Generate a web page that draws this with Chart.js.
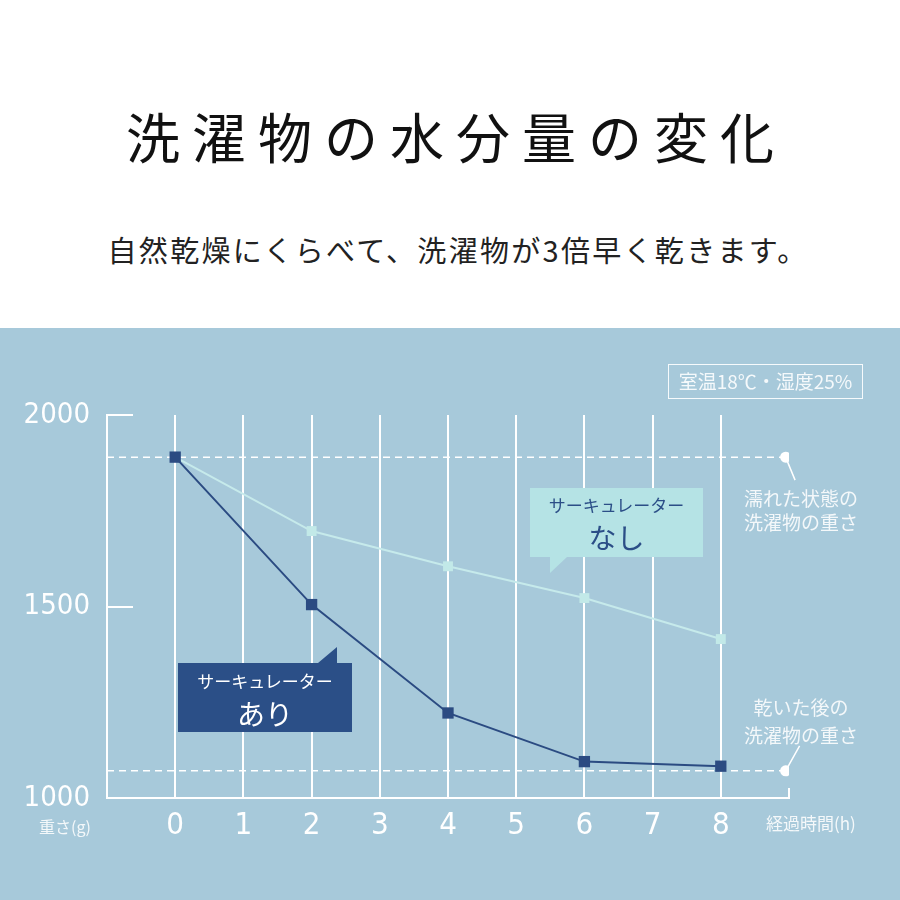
<!DOCTYPE html>
<html lang="ja">
<head>
<meta charset="utf-8">
<script src="https://cdn.jsdelivr.net/npm/chart.js@4/dist/chart.umd.min.js"></script>
<style>
  html, body { margin: 0; padding: 0; background: #fff; }
  #page { position: relative; width: 900px; height: 900px; overflow: hidden; background: #fff;
          font-family: "Noto Sans CJK JP", "Noto Sans", sans-serif; }
  #title { position: absolute; left: 0; top: 109px; width: 900px; text-align: center;
           font-size: 54px; line-height: 54px; letter-spacing: 12px; padding-left: 12px; box-sizing: border-box;
           color: #111; font-weight: 400; white-space: nowrap; }
  #subtitle { position: absolute; left: 0; top: 235px; width: 900px; text-align: center;
              font-size: 29px; line-height: 29px; letter-spacing: 2.3px; padding-left: 16px; box-sizing: border-box;
              color: #222; white-space: nowrap; }
  #panel { position: absolute; left: 0; top: 328px; width: 900px; height: 572px; background: #a7c9da; }
  #c { position: absolute; left: 0; top: 0; }
  .cond { position: absolute; left: 668px; top: 36px; width: 195px; height: 35px; box-sizing: border-box;
          border: 1.5px solid rgba(255,255,255,0.9); color: #f5f9fb; font-size: 19px; line-height: 32px;
          text-align: center; white-space: nowrap; }
  .callout { position: absolute; text-align: center; white-space: nowrap; }
  .callout .s { position: absolute; left: 0; width: 100%; font-size: 17px; line-height: 20px; }
  .callout .b { position: absolute; left: 0; width: 100%; font-size: 28px; line-height: 32px; }
  #nashi { left: 530px; top: 160px; width: 173px; height: 69px; background: #b5e3e5; color: #2b4e87; }
  #nashi .s { top: 7px; }
  #nashi .b { top: 33px; }
  #nashi::after { content: ""; position: absolute; left: 20px; top: 69px; width: 0; height: 0;
                  border-top: 16px solid #b5e3e5; border-right: 17px solid transparent; }
  #ari { left: 178px; top: 335px; width: 174px; height: 69px; background: #2b4f87; color: #fff; }
  #ari .s { top: 8px; }
  #ari .b { top: 34px; }
  #ari::after { content: ""; position: absolute; left: 140px; top: -16px; width: 0; height: 0;
                border-bottom: 16px solid #2b4f87; border-left: 19px solid transparent; }
  .note { position: absolute; left: 741px; width: 120px; text-align: center; color: #f4f8fa;
          font-size: 19px; white-space: nowrap; }
  .note div { height: 0; position: relative; }
  .note span { position: absolute; left: 0; width: 120px; line-height: 24px; transform: translateY(-12px); }
  .axisname { position: absolute; color: #f4f8fa; white-space: nowrap; }
</style>
</head>
<body>
<div id="page">
  <div id="title">洗濯物の水分量の変化</div>
  <div id="subtitle">自然乾燥にくらべて、洗濯物が3倍早く乾きます。</div>
  <div id="panel">
    <canvas id="c" width="900" height="572"></canvas>
    <div class="cond">室温18℃・湿度25%</div>
    <div class="callout" id="nashi"><div class="s">サーキュレーター</div><div class="b">なし</div></div>
    <div class="callout" id="ari"><div class="s">サーキュレーター</div><div class="b">あり</div></div>
    <div class="note" style="top:170px"><div><span>濡れた状態の</span></div><div style="top:23.5px"><span>洗濯物の重さ</span></div></div>
    <div class="note" style="top:379px"><div><span>乾いた後の</span></div><div style="top:27.5px"><span>洗濯物の重さ</span></div></div>
    <div class="axisname" style="left:39px; top:487px; font-size:16px; line-height:22px;">重さ(g)</div>
    <div class="axisname" style="left:766px; top:483px; font-size:17px; line-height:24px;">経過時間(h)</div>
  </div>
</div>
<script>
// ---- data ----
const hours = [0, 2, 4, 6, 8];
const withCirculator = [1890, 1505, 1222, 1095, 1083];      // サーキュレーターあり
const withoutCirculator = [1890, 1697, 1605, 1522, 1415];   // サーキュレーターなし
const wetWeight = 1890;   // 濡れた状態の洗濯物の重さ
const dryWeight = 1071;   // 乾いた後の洗濯物の重さ
const xTickLabels = ['0', '1', '2', '3', '4', '5', '6', '7', '8'];
const yTickLabels = ['1000', '1500', '2000'];

// ---- styles ----
const DARK = '#2b4b82';
const LIGHT_LINE = '#c6eaeb';
const LIGHT_PT = '#c2e9e8';
const NARROW = '"Noto Sans ExtraCondensed", "Noto Sans Condensed", "Liberation Sans Narrow", "DejaVu Sans Condensed", "Roboto Condensed", "Noto Sans", sans-serif';
const NARROW_WEIGHT = '300 extra-condensed';
const REF_END = 8.95;

const decor = {
  id: 'decor',
  afterDatasetsDraw(chart) {
    const { ctx, chartArea, scales } = chart;
    const x = scales.x, y = scales.y;
    ctx.save();
    ctx.strokeStyle = '#fff';
    ctx.lineWidth = 2;
    [1500, 2000].forEach(v => {
      const py = Math.round(y.getPixelForValue(v));
      ctx.beginPath();
      ctx.moveTo(chartArea.left, py);
      ctx.lineTo(chartArea.left + 26, py);
      ctx.stroke();
    });
    ctx.beginPath();
    ctx.moveTo(chartArea.right, chartArea.bottom + 1);
    ctx.lineTo(chartArea.right, chartArea.bottom - 10);
    ctx.stroke();
    ctx.lineWidth = 1.5;
    const ex = x.getPixelForValue(REF_END);
    const wy = y.getPixelForValue(wetWeight);
    const dy = y.getPixelForValue(dryWeight);
    ctx.beginPath();
    ctx.moveTo(ex, wy); ctx.lineTo(ex + 9.5, wy + 23);
    ctx.moveTo(ex, dy); ctx.lineTo(ex + 14, dy - 25);
    ctx.stroke();
    ctx.restore();
  }
};

new Chart(document.getElementById('c'), {
  type: 'line',
  data: {
    datasets: [
      {
        label: 'サーキュレーターあり',
        data: hours.map((h, i) => ({ x: h, y: withCirculator[i] })),
        borderColor: DARK, backgroundColor: DARK, borderWidth: 2,
        pointStyle: 'rect', pointRadius: 8, pointBorderWidth: 0, pointBackgroundColor: DARK,
        order: 0
      },
      {
        label: 'サーキュレーターなし',
        data: hours.map((h, i) => ({ x: h, y: withoutCirculator[i] })),
        borderColor: LIGHT_LINE, backgroundColor: LIGHT_PT, borderWidth: 2,
        pointStyle: 'rect', pointRadius: 7, pointBorderWidth: 0, pointBackgroundColor: LIGHT_PT,
        order: 1
      },
      {
        label: '濡れた状態',
        data: [{ x: -1, y: wetWeight }, { x: REF_END, y: wetWeight }],
        borderColor: '#fff', borderWidth: 1.5, borderDash: [7, 5],
        pointRadius: [0, 5.5], pointBackgroundColor: '#fff', pointBorderWidth: 0,
        order: 2
      },
      {
        label: '乾いた後',
        data: [{ x: -1, y: dryWeight }, { x: REF_END, y: dryWeight }],
        borderColor: '#fff', borderWidth: 1.5, borderDash: [7, 5],
        pointRadius: [0, 5.5], pointBackgroundColor: '#fff', pointBorderWidth: 0,
        order: 3
      }
    ]
  },
  options: {
    responsive: false,
    animation: false,
    events: [],
    plugins: { legend: { display: false }, tooltip: { enabled: false } },
    layout: { padding: { top: 87, right: 111, bottom: 0, left: 0 } },
    scales: {
      x: {
        type: 'linear', min: -1, max: 9,
        afterFit: s => { s.height = 102; },
        ticks: {
          stepSize: 1, autoSkip: false, maxRotation: 0, padding: 9,
          color: '#fff', font: { family: NARROW, size: 31, weight: NARROW_WEIGHT },
          callback: v => (v >= 0 && v <= 8) ? xTickLabels[v] : ''
        },
        grid: {
          drawTicks: false, lineWidth: 2,
          color: c => (c.tick && c.tick.value >= 0 && c.tick.value <= 8) ? '#fff' : 'rgba(0,0,0,0)'
        },
        border: { color: '#fff', width: 2 }
      },
      y: {
        min: 1000, max: 2000,
        afterFit: s => { s.width = 107; },
        ticks: {
          stepSize: 500, padding: 17, color: '#fff', font: { family: NARROW, size: 29, weight: NARROW_WEIGHT },
          callback: v => yTickLabels[Math.round((v - 1000) / 500)]
        },
        grid: { display: false, drawTicks: false },
        border: { color: '#fff', width: 2 }
      }
    }
  },
  plugins: [decor]
});
</script>
</body>
</html>
